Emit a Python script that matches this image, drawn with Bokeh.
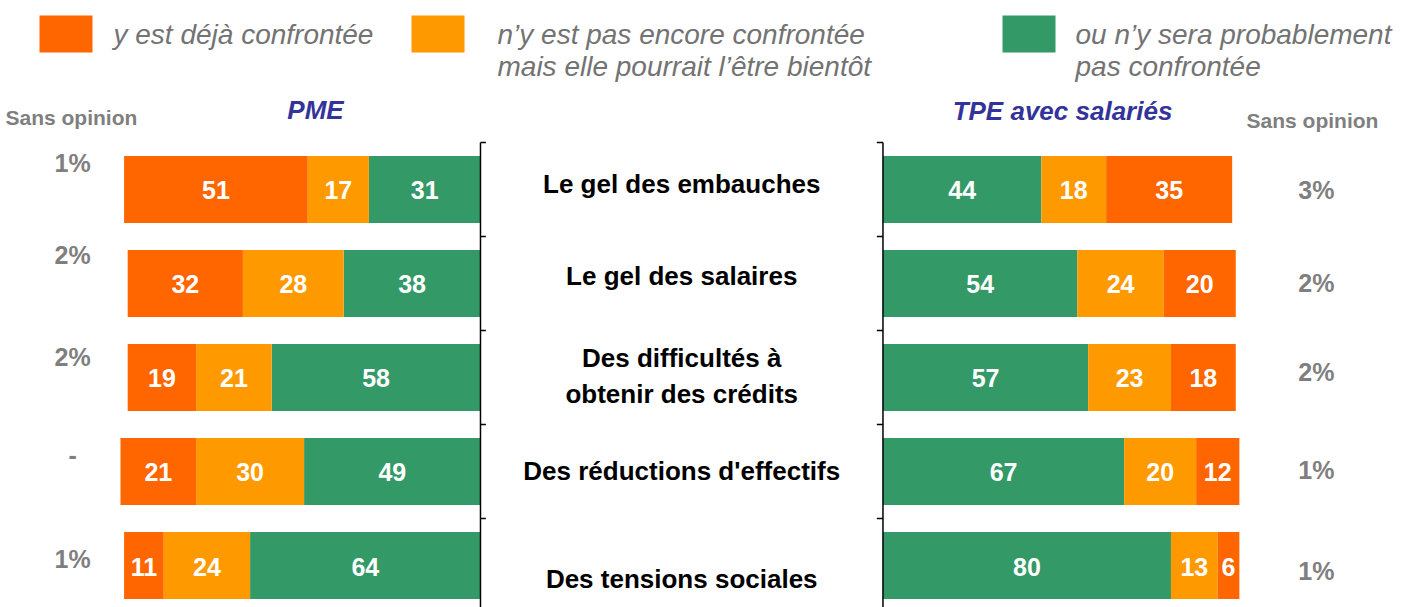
from bokeh.plotting import figure
from bokeh.models import Range1d, ColumnDataSource
from bokeh.core.properties import value
from bokeh.embed import file_html
from bokeh.resources import INLINE

# ---------------- data ----------------
categories = ["Le gel des embauches", "Le gel des salaires",
              "Des difficultés à\nobtenir des crédits",
              "Des réductions d'effectifs", "Des tensions sociales"]
pme_deja = [51, 32, 19, 21, 11]
pme_encore = [17, 28, 21, 30, 24]
pme_jamais = [31, 38, 58, 49, 64]
pme_sans_opinion = ["1%", "2%", "2%", "-", "1%"]
tpe_deja = [35, 20, 18, 12, 6]
tpe_encore = [18, 24, 23, 20, 13]
tpe_jamais = [44, 54, 57, 67, 80]
tpe_sans_opinion = ["3%", "2%", "2%", "1%", "1%"]
legend_labels = ["y est déjà confrontée",
                 "n’y est pas encore confrontée\nmais elle pourrait l’être bientôt",
                 "ou n’y sera probablement\npas confrontée"]
group_titles = ["PME", "TPE avec salariés"]
side_header = "Sans opinion"

# ---------------- style / layout ----------------
RED = "#FF6600"
ORANGE = "#FF9900"
GREEN = "#339966"
GREY = "#7F7F7F"
LEGEND_GREY = "#737373"
TITLE_BLUE = "#333399"
FONT = value("Liberation Sans")
R0 = 111.8          # where the right-hand bars start (in % units)
BAR_H = 0.713
label_dy = [-5, -7, -1, 0, 13]
left_so_dy = [-26, -28, -20, -16, -7]
right_so_dy = [1, 0, -5, -1, 5]

W, H = 1413, 607
p = figure(width=W, height=H, x_range=Range1d(-133.33, 259.17),
           y_range=Range1d(4.4468, -2.0106), output_backend="svg",
           toolbar_location=None, min_border=0, outline_line_color=None,
           x_axis_type=None, y_axis_type=None, background_fill_color="white",
           border_fill_color="white")
p.grid.visible = False
p.extra_x_ranges = {"px": Range1d(0, W)}
p.extra_y_ranges = {"py": Range1d(H, 0)}

n = len(categories)
ys = list(range(n))

# ---------------- left bars (PME), drawn leftwards from 0 ----------------
l_g_left = [-j for j in pme_jamais]
l_o_left = [-(j + e) for j, e in zip(pme_jamais, pme_encore)]
l_r_left = [-(j + e + d) for j, e, d in zip(pme_jamais, pme_encore, pme_deja)]
p.hbar(y=ys, left=l_g_left, right=[0] * n, height=BAR_H, color=GREEN, line_color=None)
p.hbar(y=ys, left=l_o_left, right=l_g_left, height=BAR_H, color=ORANGE, line_color=None)
p.hbar(y=ys, left=l_r_left, right=l_o_left, height=BAR_H, color=RED, line_color=None)

# ---------------- right bars (TPE), drawn rightwards from R0 ----------------
r_g_right = [R0 + j for j in tpe_jamais]
r_o_right = [R0 + j + e for j, e in zip(tpe_jamais, tpe_encore)]
r_r_right = [R0 + j + e + d for j, e, d in zip(tpe_jamais, tpe_encore, tpe_deja)]
p.hbar(y=ys, left=[R0] * n, right=r_g_right, height=BAR_H, color=GREEN, line_color=None)
p.hbar(y=ys, left=r_g_right, right=r_o_right, height=BAR_H, color=ORANGE, line_color=None)
p.hbar(y=ys, left=r_o_right, right=r_r_right, height=BAR_H, color=RED, line_color=None)

# ---------------- bar value labels ----------------
vx, vy, vt = [], [], []
for i in range(n):
    for lft, rgt, v in [(l_g_left[i], 0, pme_jamais[i]),
                        (l_o_left[i], l_g_left[i], pme_encore[i]),
                        (l_r_left[i], l_o_left[i], pme_deja[i]),
                        (R0, r_g_right[i], tpe_jamais[i]),
                        (r_g_right[i], r_o_right[i], tpe_encore[i]),
                        (r_o_right[i], r_r_right[i], tpe_deja[i])]:
        vx.append((lft + rgt) / 2)
        vy.append(i)
        vt.append(str(v))
p.text(x=vx, y=vy, text=vt, text_align="center", text_baseline="middle",
       text_color="white", text_font=FONT, text_font_size="25px",
       text_font_style="bold", y_offset=1)

# ---------------- axes (spines with ticks) ----------------
bottom = p.y_range.start
bounds = [i - 0.5 for i in range(n)]
p.segment(x0=[0], y0=[-0.5], x1=[0], y1=[bottom], line_color="black", line_width=1.5)
p.segment(x0=[R0], y0=[-0.5], x1=[R0], y1=[bottom], line_color="black", line_width=1.5)
p.segment(x0=[0] * n, y0=bounds, x1=[1.5] * n, y1=bounds, line_color="black", line_width=1.5)
p.segment(x0=[R0] * n, y0=bounds, x1=[R0 - 1.7] * n, y1=bounds, line_color="black", line_width=1.5)

# ---------------- category labels ----------------
src = ColumnDataSource(dict(x=[R0 / 2] * n, y=ys, t=categories, dy=label_dy))
p.text(x="x", y="y", text="t", y_offset="dy", source=src, text_align="center",
       text_baseline="middle", text_color="black", text_font=FONT,
       text_font_size="26px", text_font_style="bold", text_line_height=1.2)

# ---------------- sans opinion values ----------------
src_l = ColumnDataSource(dict(x=[-113.3] * n, y=ys, t=pme_sans_opinion, dy=left_so_dy))
p.text(x="x", y="y", text="t", y_offset="dy", source=src_l, text_align="center",
       text_baseline="middle", text_color=GREY, text_font=FONT,
       text_font_size="25px", text_font_style="bold")
src_r = ColumnDataSource(dict(x=[232.2] * n, y=ys, t=tpe_sans_opinion, dy=right_so_dy))
p.text(x="x", y="y", text="t", y_offset="dy", source=src_r, text_align="center",
       text_baseline="middle", text_color=GREY, text_font=FONT,
       text_font_size="25px", text_font_style="bold")

# ---------------- headers (page-pixel coordinates) ----------------
kw = dict(x_range_name="px", y_range_name="py")
p.text(x=[5], y=[117], text=[side_header], text_align="left", text_baseline="middle",
       text_color=GREY, text_font=FONT, text_font_size="21px", text_font_style="bold", **kw)
p.text(x=[1312], y=[120], text=[side_header], text_align="center", text_baseline="middle",
       text_color=GREY, text_font=FONT, text_font_size="21px", text_font_style="bold", **kw)
p.text(x=[315, 1062], y=[109, 110], text=group_titles, text_align="center",
       text_baseline="middle", text_color=TITLE_BLUE, text_font=FONT,
       text_font_size="26px", text_font_style="bold italic", **kw)

# ---------------- legend ----------------
sq_left = [39, 411, 1002]
txt_left = [113, 497, 1075]
p.quad(left=sq_left, right=[s + 53 for s in sq_left], top=[15] * 3, bottom=[52] * 3,
       color=[RED, ORANGE, GREEN], line_color=None, **kw)
lx, ly, lt = [], [], []
for xs, lab in zip(txt_left, legend_labels):
    for k, line in enumerate(lab.split("\n")):
        lx.append(xs)
        ly.append(34 + 32 * k)
        lt.append(line)
p.text(x=lx, y=ly, text=lt, text_align="left", text_baseline="middle",
       text_color=LEGEND_GREY, text_font=FONT, text_font_size="28px",
       text_font_style="italic", **kw)

open("out.html", "w").write(file_html(p, INLINE))
